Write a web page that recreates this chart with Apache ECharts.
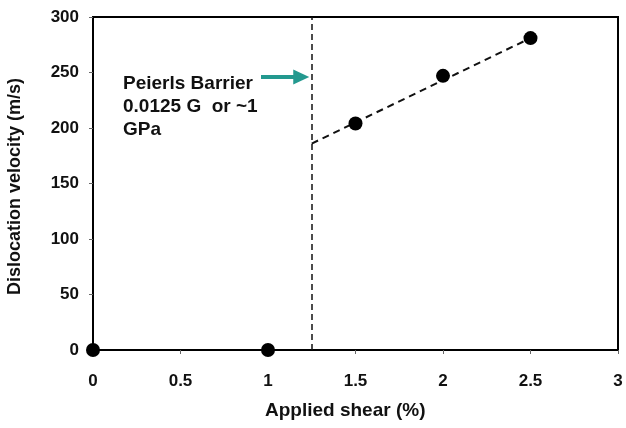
<!DOCTYPE html>
<html>
<head>
<meta charset="utf-8">
<script src="https://cdn.jsdelivr.net/npm/echarts@6/dist/echarts.min.js"></script>
<style>
  html, body { margin: 0; padding: 0; background: #fff; }
  #chart { width: 626px; height: 428px; }
</style>
</head>
<body>
<div id="chart"></div>
<script>
// measured points
const shear = [0, 1, 1.5, 2, 2.5];
const velocity = [0, 0, 204, 247, 281];
// dashed trend line past the barrier
const trendX = [1.25, 2.5];
const trendY = [186, 281];
const barrierX = 1.25;
// arrow pointing at the barrier line
const arrowX = [0.96, 1.19];
const arrowY = [246, 246];
const yTicks = [0, 50, 100, 150, 200, 250, 300];
const xTicks = [0, 0.5, 1, 1.5, 2, 2.5, 3];

const font = "'Liberation Sans', Arial, sans-serif";
const chart = echarts.init(document.getElementById("chart"));

chart.setOption({
  animation: false,
  backgroundColor: "#fff",
  grid: {
    left: 93, right: 8, top: 17, bottom: 78,
    show: true, borderColor: "#000", borderWidth: 2
  },
  xAxis: {
    type: "value",
    min: xTicks[0], max: xTicks[xTicks.length - 1], interval: 0.5,
    axisLine: { onZero: false, lineStyle: { color: "#000", width: 2 } },
    axisTick: { show: true, length: 4, lineStyle: { color: "#666", width: 1 } },
    splitLine: { show: false },
    axisLabel: { color: "#111", fontFamily: font, fontWeight: "bold", fontSize: 17, margin: 23 }
  },
  yAxis: {
    type: "value",
    min: yTicks[0], max: yTicks[yTicks.length - 1], interval: 50,
    axisLine: { show: true, lineStyle: { color: "#000", width: 2 } },
    axisTick: { show: true, length: 4, lineStyle: { color: "#666", width: 1 } },
    splitLine: { show: false },
    axisLabel: { color: "#111", fontFamily: font, fontWeight: "bold", fontSize: 17, margin: 14 }
  },
  graphic: [
    {
      type: "text", left: 6, top: 78, rotation: Math.PI / 2,
      style: { text: "Dislocation velocity (m/s)", fill: "#111", font: "bold 18px " + font }
    },
    {
      type: "text", left: 265, top: 401,
      style: { text: "Applied shear (%)", fill: "#111", font: "bold 19px " + font }
    },
    {
      type: "text", left: 123, top: 72,
      style: {
        text: "Peierls Barrier\n0.0125 G  or ~1\nGPa",
        fill: "#111", font: "bold 19px " + font, lineHeight: 23
      }
    }
  ],
  series: [
    {
      type: "line",
      data: trendX.map((x, i) => [x, trendY[i]]),
      symbol: "none",
      showSymbol: false,
      lineStyle: { color: "#111", width: 2, type: [7, 5] },
      z: 2,
      markLine: {
        silent: true,
        symbol: ["none", "triangle"],
        symbolSize: [15, 16],
        label: { show: false },
        lineStyle: { color: "#23998f", width: 4, type: "solid" },
        itemStyle: { color: "#23998f" },
        data: [[
          { coord: [arrowX[0], arrowY[0]] },
          { coord: [arrowX[1], arrowY[1]] }
        ]]
      }
    },
    {
      type: "scatter",
      data: shear.map((x, i) => [x, velocity[i]]),
      symbol: "circle",
      symbolSize: 14,
      itemStyle: { color: "#000", opacity: 1 },
      clip: false,
      z: 5,
      markLine: {
        silent: true,
        symbol: "none",
        label: { show: false },
        lineStyle: { color: "#111", width: 1.5, type: [6, 4] },
        data: [{ xAxis: barrierX }]
      }
    }
  ]
});
</script>
</body>
</html>
